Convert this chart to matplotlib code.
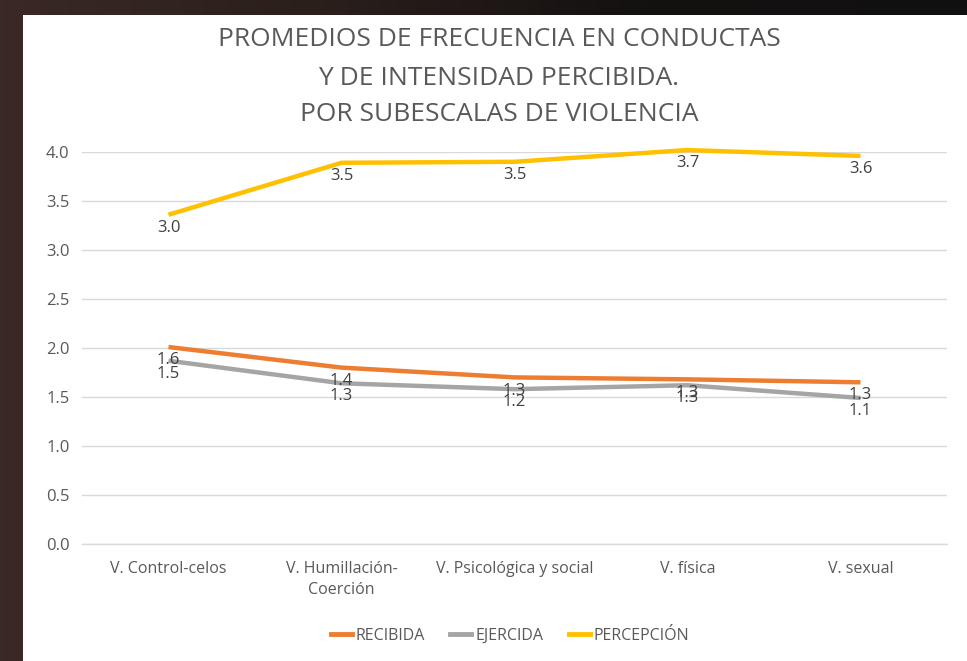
import matplotlib
matplotlib.use("Agg")
import matplotlib.pyplot as plt
import numpy as np
from matplotlib.patches import Rectangle
from matplotlib.lines import Line2D
from matplotlib.colors import LinearSegmentedColormap

categories = ["V. Control-celos", "V. Humillación-\nCoerción", "V. Psicológica y social", "V. física", "V. sexual"]
recibida = [2.01, 1.80, 1.70, 1.68, 1.65]
ejercida = [1.87, 1.64, 1.58, 1.62, 1.49]
percepcion = [3.36, 3.89, 3.90, 4.02, 3.96]
recibida_labels = ["1.6", "1.4", "1.3", "1.3", "1.3"]
ejercida_labels = ["1.5", "1.3", "1.2", "1.3", "1.1"]
percepcion_labels = ["3.0", "3.5", "3.5", "3.7", "3.6"]
yticks = [0.0, 0.5, 1.0, 1.5, 2.0, 2.5, 3.0, 3.5, 4.0]
title_lines = ["PROMEDIOS DE FRECUENCIA EN CONDUCTAS", "Y DE INTENSIDAD PERCIBIDA.", "POR SUBESCALAS DE VIOLENCIA"]

W, H = 967, 661
plt.rcParams['font.family'] = ['Open Sans', 'DejaVu Sans']
fig = plt.figure(figsize=(W / 100, H / 100), dpi=100)
fig.patch.set_facecolor("#1c1512")

# background: dark brown-to-black gradient with white chart panel
bg = fig.add_axes([0, 0, 1, 1], zorder=-10)
bg.set_xlim(0, W)
bg.set_ylim(H, 0)
bg.axis("off")
cmap = LinearSegmentedColormap.from_list("bgc", ["#3a2924", "#2a1f1b", "#141111", "#111010"])
grad = np.linspace(0, 1, 256).reshape(1, -1)
bg.imshow(grad, cmap=cmap, extent=(0, W, H, 0), aspect="auto", zorder=0)
bg.add_patch(Rectangle((23, 15), W - 23, H - 15, facecolor="white", edgecolor="none", zorder=1))

left, right = 82 / W, 947 / W
bottom, top = 1 - 544 / H, 1 - 152 / H
ax = fig.add_axes([left, bottom, right - left, top - bottom])
ax.set_facecolor("none")

x = list(range(len(categories)))
series = [
    (recibida, recibida_labels, "#ED7D31", "RECIBIDA"),
    (ejercida, ejercida_labels, "#A5A5A5", "EJERCIDA"),
    (percepcion, percepcion_labels, "#FFC000", "PERCEPCIÓN"),
]
for vals, labs, col, name in series:
    ax.plot(x, vals, color=col, lw=3.2, solid_capstyle="butt", solid_joinstyle="round",
            zorder=3, label=name, clip_on=False)
    for xi, v, lab in zip(x, vals, labs):
        ax.annotate(lab, (xi, v), xytext=(0, -9.5), textcoords="offset points",
                    ha="center", va="center", fontsize=12, color="#404040", zorder=4,
                    annotation_clip=False)

ax.set_xlim(-0.5, len(categories) - 0.5)
ax.set_ylim(0, 4.0)
ax.set_yticks(yticks)
ax.set_yticklabels([f"{t:.1f}" for t in yticks])
ax.set_xticks(x)
ax.set_xticklabels(categories, linespacing=1.45)
ax.tick_params(axis="both", length=0, labelcolor="#595959")
ax.tick_params(axis="y", pad=9, labelsize=12)
ax.tick_params(axis="x", pad=12, labelsize=11.5)
ax.yaxis.grid(True, color="#D9D9D9", lw=1.0)
ax.set_axisbelow(True)
for s in ["top", "right", "left"]:
    ax.spines[s].set_visible(False)
ax.spines["bottom"].set_color("#D9D9D9")
ax.spines["bottom"].set_linewidth(1.0)

baselines = [46, 85, 121]
for line, yb in zip(title_lines, baselines):
    fig.text(499 / W, 1 - yb / H, line, ha="center", va="baseline",
             fontsize=19, color="#595959")

handles = [Line2D([0], [0], color=c, lw=3.5) for _, _, c, _ in series]
fig.legend(handles, [n for *_, n in series], loc="center", bbox_to_anchor=(510 / W, 1 - 636 / H),
           ncol=3, frameon=False, fontsize=11.5, handlelength=1.3, handletextpad=0.25, columnspacing=1.6,
           labelcolor="#595959")

fig.savefig("out.png", dpi=100, facecolor=fig.get_facecolor())
